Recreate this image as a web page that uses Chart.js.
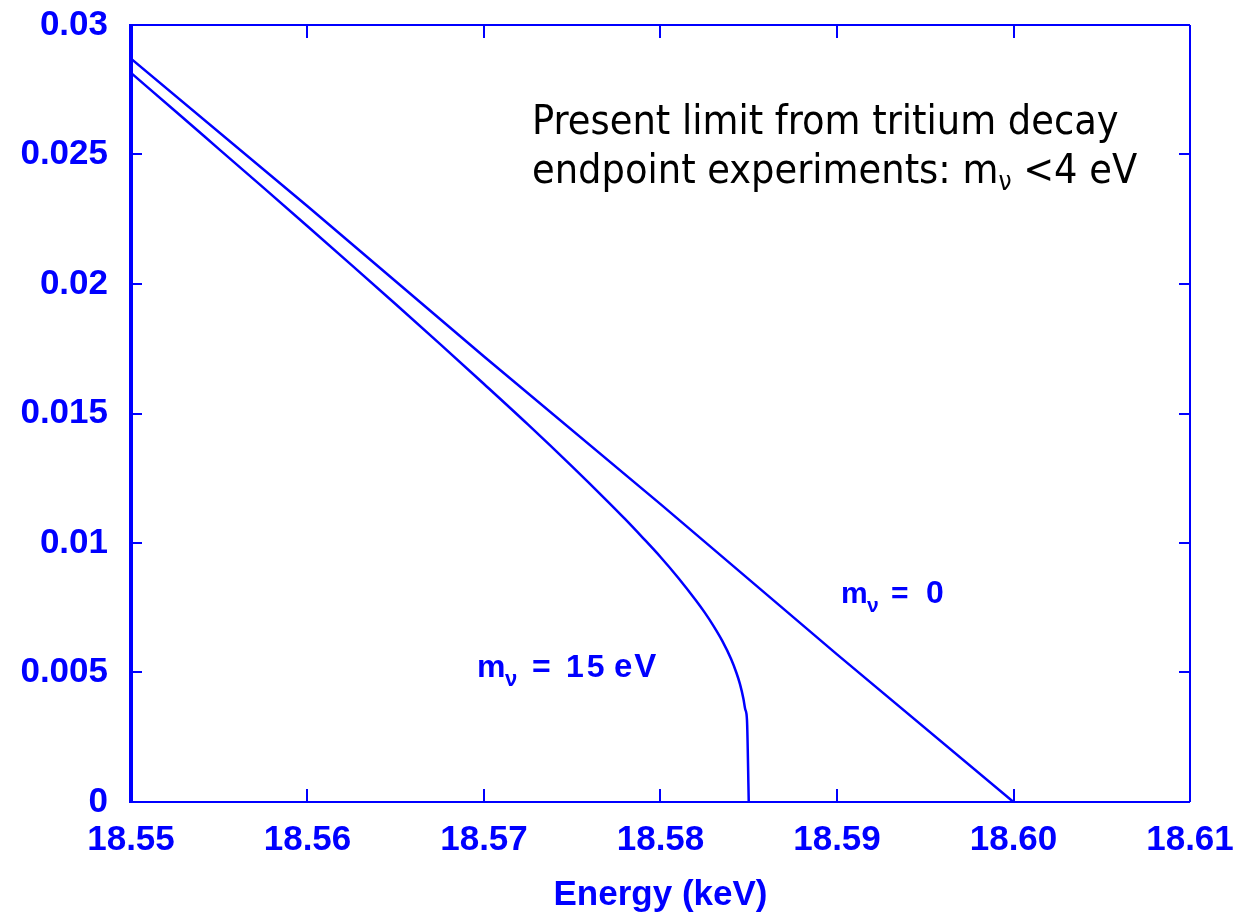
<!DOCTYPE html>
<html>
<head>
<meta charset="utf-8">
<script src="https://cdn.jsdelivr.net/npm/chart.js@4.4.0/dist/chart.umd.min.js"></script>
<style>
  body { margin: 0; background: #fff; }
  #wrap { width: 1251px; height: 913px; position: relative; }
</style>
</head>
<body>
<div id="wrap"><canvas id="myChart"></canvas></div>
<script>
const blue = '#0000ff';

// tick values and labels
const xTicks = [18.55, 18.56, 18.57, 18.58, 18.59, 18.60, 18.61];
const xTickLabels = ['18.55', '18.56', '18.57', '18.58', '18.59', '18.60', '18.61'];
const yTicks = [0, 0.005, 0.01, 0.015, 0.02, 0.025, 0.03];
const yTickLabels = ['0', '0.005', '0.01', '0.015', '0.02', '0.025', '0.03'];

// m_nu = 0 (straight line to the endpoint)
const energyM0 = [18.55, 18.56, 18.57, 18.58, 18.59, 18.60];
const valuesM0 = [0.0287, 0.0230, 0.0172, 0.0115, 0.0057, 0];

// m_nu = 15 eV (bends down, ends at 18.585)
const energyM15 = [18.55, 18.5525, 18.555, 18.5575, 18.56, 18.5625, 18.565, 18.5675, 18.57, 18.5725,
  18.575, 18.577, 18.578, 18.579, 18.58, 18.581, 18.582, 18.5825, 18.583, 18.5835,
  18.584, 18.5843, 18.5845, 18.5847, 18.5848, 18.5849, 18.585];
const valuesM15 = [0.02815, 0.02668, 0.02520, 0.02372, 0.02223, 0.02073, 0.01922, 0.01769, 0.01614, 0.01457,
  0.01295, 0.01161, 0.01092, 0.01020, 0.00946, 0.00866, 0.00779, 0.00732, 0.00680, 0.00622,
  0.00552, 0.00499, 0.00456, 0.00398, 0.00358, 0.00316, 0];

const toPoints = (xs, ys) => xs.map((x, i) => ({x: x, y: ys[i]}));

const tickFont = {family: '"Liberation Sans", Arial, sans-serif', size: 35, weight: 'bold', lineHeight: 1};
const labelFamily = '"Liberation Sans", Arial, sans-serif';

// frame, inward ticks and text labels
const decorations = {
  id: 'decorations',
  afterDatasetsDraw(chart) {
    const ctx = chart.ctx;
    const a = chart.chartArea;
    const xs = chart.scales.x, ys = chart.scales.y;
    ctx.save();
    ctx.strokeStyle = blue;

    // frame
    ctx.lineWidth = 2;
    ctx.beginPath();
    ctx.moveTo(a.left, a.top); ctx.lineTo(a.right, a.top);
    ctx.moveTo(a.right, a.top); ctx.lineTo(a.right, a.bottom);
    ctx.moveTo(a.left, a.bottom); ctx.lineTo(a.right, a.bottom);
    ctx.stroke();
    ctx.lineWidth = 4;
    ctx.beginPath();
    ctx.moveTo(a.left, a.top - 1); ctx.lineTo(a.left, a.bottom + 1);
    ctx.stroke();

    // ticks
    ctx.lineWidth = 2;
    ctx.beginPath();
    xTicks.slice(1, -1).forEach(v => {
      const px = Math.round(xs.getPixelForValue(v));
      ctx.moveTo(px, a.bottom); ctx.lineTo(px, a.bottom - 13);
      ctx.moveTo(px, a.top); ctx.lineTo(px, a.top + 13);
    });
    yTicks.slice(1, -1).forEach(v => {
      const py = Math.round(ys.getPixelForValue(v));
      ctx.moveTo(a.left, py); ctx.lineTo(a.left + 11, py);
      ctx.moveTo(a.right, py); ctx.lineTo(a.right - 11, py);
    });
    ctx.stroke();

    // curve labels
    ctx.fillStyle = blue;
    ctx.textBaseline = 'alphabetic';
    ctx.textAlign = 'left';
    const put = (text, x, y, size, spacing) => {
      ctx.font = 'bold ' + size + 'px ' + labelFamily;
      ctx.letterSpacing = (spacing || 0) + 'px';
      ctx.fillText(text, x, y);
      ctx.letterSpacing = '0px';
    };
    put('m', 477, 677, 32);
    put('\u03bd', 505, 686, 22);
    put('=', 532, 677, 32);
    put('15', 566, 677, 32, 3);
    put('eV', 614, 677, 33, 2);

    put('m', 841, 603, 30);
    put('\u03bd', 867, 612, 21);
    put('=', 891, 603, 30);
    put('0', 926, 603, 32);

    // annotation
    ctx.fillStyle = '#000';
    const f = '"DejaVu Sans Condensed", "DejaVu Sans", sans-serif';
    ctx.font = '41px ' + f;
    ctx.fillText('Present limit from tritium decay', 532, 134);
    const s1 = 'endpoint experiments: m';
    ctx.fillText(s1, 532, 183);
    let x2 = 532 + ctx.measureText(s1).width;
    ctx.font = '26px ' + f;
    ctx.fillText('\u03bd', x2, 190);
    x2 += ctx.measureText('\u03bd').width;
    ctx.font = '41px ' + f;
    ctx.fillText(' <4 eV', x2, 183);
    ctx.restore();
  }
};

const ctx = document.getElementById('myChart').getContext('2d');

const config = {
  type: 'line',
  data: {
    datasets: [
      {
        label: 'm = 0',
        data: toPoints(energyM0, valuesM0),
        borderColor: blue,
        borderWidth: 2.5,
        pointRadius: 0,
        tension: 0,
      },
      {
        label: 'm = 15 eV',
        data: toPoints(energyM15, valuesM15),
        borderColor: blue,
        borderWidth: 2.5,
        pointRadius: 0,
        cubicInterpolationMode: 'monotone',
      },
    ],
  },
  options: {
    responsive: true,
    maintainAspectRatio: false,
    animation: false,
    layout: { padding: {top: 25, right: 61, left: 0, bottom: 0} },
    plugins: { legend: {display: false}, tooltip: {enabled: false} },
    scales: {
      x: {
        type: 'linear',
        min: 18.55,
        max: 18.61,
        grid: {display: false, drawTicks: false},
        border: {display: false},
        afterBuildTicks: (scale) => { scale.ticks = xTicks.map(v => ({value: v})); },
        afterFit: (scale) => {
          scale.height = 111;
          scale.paddingLeft = 0;
          scale.paddingRight = 0;
        },
        ticks: {
          color: blue,
          font: tickFont,
          padding: 21,
          maxRotation: 0,
          autoSkip: false,
          callback: (value, index) => xTickLabels[index],
        },
        title: {
          display: true,
          text: 'Energy (keV)',
          color: blue,
          font: tickFont,
          padding: {top: 0, bottom: 0},
        },
      },
      y: {
        min: 0,
        max: 0.03,
        grid: {display: false, drawTicks: false},
        border: {display: false},
        afterBuildTicks: (scale) => { scale.ticks = yTicks.map(v => ({value: v})); },
        afterFit: (scale) => {
          scale.width = 131;
          scale.paddingTop = 0;
          scale.paddingBottom = 0;
        },
        ticks: {
          color: blue,
          font: tickFont,
          padding: 23,
          autoSkip: false,
          callback: (value, index) => yTickLabels[index],
        },
      },
    },
  },
  plugins: [decorations],
};

const myChart = new Chart(ctx, config);
</script>
</body>
</html>
